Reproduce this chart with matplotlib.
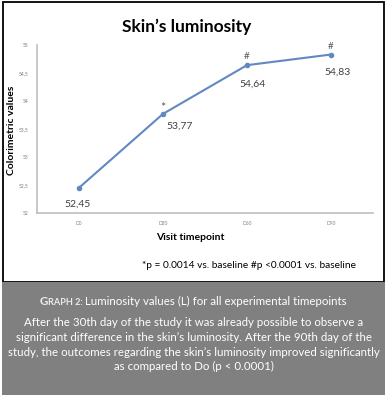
import matplotlib
matplotlib.use("Agg")
import matplotlib.pyplot as plt
from matplotlib.patches import Rectangle

# data
timepoints = ["D0", "D30", "D60", "D90"]
luminosity = [52.45, 53.77, 54.64, 54.83]
value_labels = ["52,45", "53,77", "54,64", "54,83"]
signif = ["", "*", "#", "#"]
y_ticks = [52, 52.5, 53, 53.5, 54, 54.5, 55]
y_ticklabels = ["52", "52,5", "53", "53,5", "54", "54,5", "55"]

title = "Skin\u2019s luminosity"
footnote = "*p = 0.0014 vs. baseline #p <0.0001 vs. baseline"
caption_head = ["G", "RAPH 2:"]
caption_title = " Luminosity values (L) for all experimental timepoints"
caption_lines = [
    "After the 30th day of the study it was already possible to observe a",
    "significant difference in the skin\u2019s luminosity. After the 90th day of the",
    "study, the outcomes regarding the skin\u2019s luminosity improved significantly",
    "as compared to Do (p < 0.0001)",
]

plt.rcParams["font.family"] = ["Lato", "DejaVu Sans"]

W, H = 389, 395
fig = plt.figure(figsize=(W / 100, H / 100), dpi=100)

def fx(px):
    return px / W

def fy(py):
    return 1 - py / H

# frame and grey caption band
fig.patches.append(Rectangle((fx(2.5), fy(282)), fx(381.5), 280 / H, transform=fig.transFigure,
                             fill=False, edgecolor="black", linewidth=1.3))
fig.patches.append(Rectangle((fx(2), 0), fx(382.5), fy(282), transform=fig.transFigure,
                             facecolor="#808080", edgecolor="none"))

ax = fig.add_axes([fx(37), fy(213), fx(373) - fx(37), (213 - 45) / H])
x = list(range(len(timepoints)))
color = "#6189c0"
ax.plot(x, luminosity, color=color, linewidth=1.5, marker="o", markersize=3)

label_offsets = [(-1, -12), (12, -9), (4, -14), (5, -13)]
for i, (v, lab, off) in enumerate(zip(luminosity, value_labels, label_offsets)):
    ax.annotate(lab, (i, v), xytext=off, textcoords="offset points",
                ha="center", va="center", fontsize=7.5, color="#404040")
    if signif[i]:
        size = 9 if signif[i] == "*" else 7
        dy = 4.5 if signif[i] == "*" else 6
        ax.annotate(signif[i], (i, v), xytext=(0, dy), textcoords="offset points",
                    ha="center", va="center", fontsize=size, color="#595959")

ax.set_xlim(-0.5, 3.5)
ax.set_ylim(52, 55)
ax.set_yticks(y_ticks)
ax.set_yticklabels(y_ticklabels)
ax.set_xticks(x)
ax.set_xticklabels(timepoints)
ax.tick_params(length=0, labelsize=3.5, labelcolor="#7f7f7f", pad=6)
for s in ["top", "right"]:
    ax.spines[s].set_visible(False)
for s in ["left", "bottom"]:
    ax.spines[s].set_color("#bfbfbf")
    ax.spines[s].set_linewidth(1.2)

fig.text(fx(187), fy(27), title, ha="center", va="center", fontsize=12.5,
         fontweight="bold", color="black")
fig.text(fx(12), fy(130), "Colorimetric values", rotation=90, ha="center", va="center",
         fontsize=7.5, fontweight="bold", color="black")
fig.text(fx(190), fy(238), "Visit timepoint", ha="center", va="center",
         fontsize=7.5, fontweight="bold", color="black")
fig.text(fx(249), fy(265), footnote, ha="center", va="center", fontsize=7.3, color="black")

# caption heading: small caps bold part + regular part, centred together
fig.canvas.draw()
r = fig.canvas.get_renderer()
parts = [
    fig.text(0, fy(302), caption_head[0], ha="left", va="baseline", fontsize=8.3,
             fontweight="bold", color="#ececec"),
    fig.text(0, fy(302), caption_head[1], ha="left", va="baseline", fontsize=6.6,
             fontweight="bold", color="#ececec"),
    fig.text(0, fy(302), caption_title, ha="left", va="baseline", fontsize=8.3,
             color="white"),
]
widths = [t.get_window_extent(r).width for t in parts]
start = 193 - sum(widths) / 2
for t, w in zip(parts, widths):
    t.set_x(fx(start))
    t.set_y(fy(305))
    start += w

for i, line in enumerate(caption_lines):
    fig.text(fx(194), fy(323 + i * 14.5), line, ha="center", va="center",
             fontsize=8.3, color="white")

fig.savefig("out.png", dpi=100)
